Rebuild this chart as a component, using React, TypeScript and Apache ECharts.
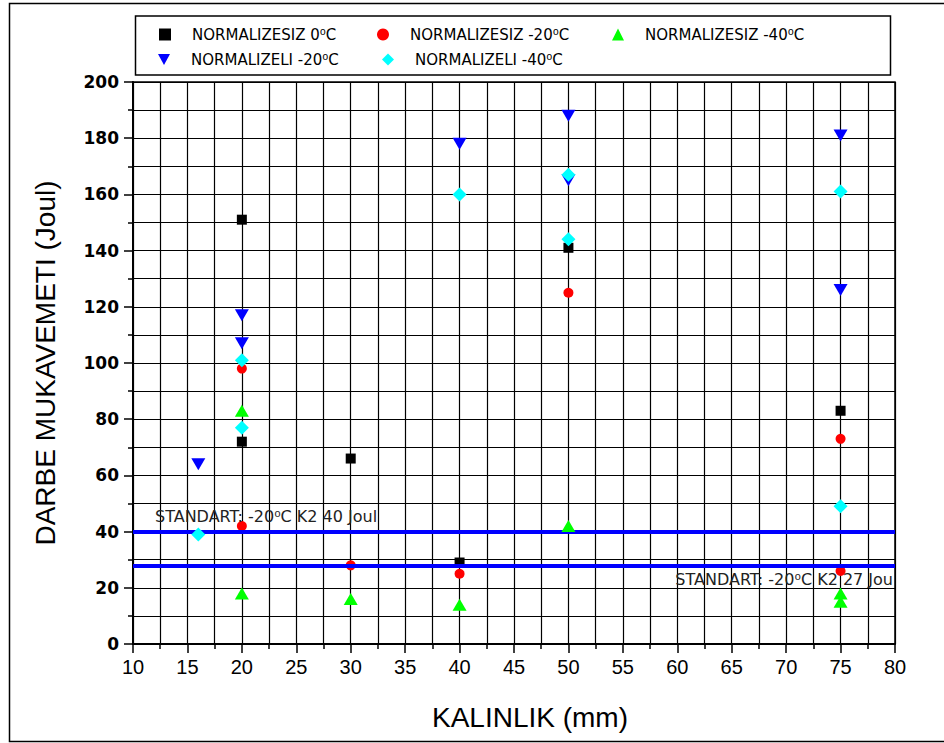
import React, { useEffect, useRef } from "react";
import * as echarts from "echarts";

const seriesNames = [
  "NORMALIZESIZ 0⁰C",
  "NORMALIZESIZ -20⁰C",
  "NORMALIZESIZ -40⁰C",
  "NORMALIZELI -20⁰C",
  "NORMALIZELI -40⁰C",
];
// [thickness mm, impact energy J]
const normalizesiz0: number[][] = [[20, 151], [20, 72], [30, 66], [40, 29], [50, 141], [75, 83]];
const normalizesizM20: number[][] = [[20, 98], [20, 42], [30, 28], [40, 25], [50, 125], [75, 73], [75, 26]];
const normalizesizM40: number[][] = [[20, 83], [20, 18], [30, 16], [40, 14], [50, 42], [75, 18], [75, 15]];
const normalizeliM20: number[][] = [[16, 64], [20, 117], [20, 107], [40, 178], [50, 188], [50, 165], [75, 181], [75, 126]];
const normalizeliM40: number[][] = [[16, 39], [20, 101], [20, 77], [40, 160], [50, 167], [50, 144], [75, 161], [75, 49]];

const standardLevels = [40, 28];
const standardLabels = ["STANDART: -20⁰C K2 40 Joul", "STANDART: -20⁰C K2 27 Jou"];

const xMin = 10, xMax = 80, xInterval = 5;
const yMin = 0, yMax = 200, yInterval = 20;

const colors = ["#000000", "#ff0000", "#00ff00", "#0000ff", "#00ffff"];
const symbols = ["rect", "circle", "triangle", "path://M0,0 L10,0 L5,9 Z", "diamond"];
const symbolSizes: any[] = [10, 10, [14, 12], [14, 12], [14, 14]];
const legendPos = [
  { left: 159, top: 27 },
  { left: 377, top: 27 },
  { left: 612, top: 27 },
  { left: 158, top: 52 },
  { left: 382, top: 52 },
];

export default function App() {
  const ref = useRef<HTMLDivElement>(null);
  useEffect(() => {
    if (!ref.current) return;
    const chart = echarts.init(ref.current, null, { renderer: "svg" });
    const datasets = [normalizesiz0, normalizesizM20, normalizesizM40, normalizeliM20, normalizeliM40];
    const series: any[] = datasets.map((d, i) => ({
      name: seriesNames[i],
      type: "scatter",
      data: d,
      symbol: symbols[i],
      symbolSize: symbolSizes[i],
      itemStyle: { color: colors[i], opacity: 1 },
      z: 3 + i,
    }));
    series.push({
      name: "STANDART",
      type: "scatter",
      data: [],
      z: 20,
      markLine: {
        silent: true,
        symbol: ["none", "none"],
        animation: false,
        lineStyle: { color: "#0000ff", width: 4, type: "solid" },
        data: standardLevels.map((v, i) => ({
          yAxis: v,
          label: {
            show: true,
            formatter: standardLabels[i],
            position: i === 0 ? "insideStartTop" : "insideEndBottom",
            distance: i === 0 ? [22, 7] : [2, 6],
            color: "#222",
            fontSize: 16,
            fontFamily: "DejaVu Sans",
          },
        })),
      },
    });
    const legends = seriesNames.map((n, i) => ({
      data: [n],
      left: legendPos[i].left,
      top: legendPos[i].top,
      itemWidth: 12,
      itemHeight: 12,
      padding: 0,
      selectedMode: false,
      textStyle: { fontSize: 15, color: "#000", fontFamily: "DejaVu Sans", padding: [0, 0, 0, 16] },
    }));
    const option: any = {
      animation: false,
      backgroundColor: "#fff",
      textStyle: { fontFamily: "Liberation Sans" },
      legend: legends,
      grid: {
        left: 133,
        right: 49,
        top: 82,
        bottom: 99,
        show: true,
        borderColor: "#000",
        borderWidth: 1.5,
        backgroundColor: "transparent",
      },
      xAxis: {
        type: "value",
        min: xMin,
        max: xMax,
        interval: xInterval,
        name: "KALINLIK (mm)",
        nameLocation: "middle",
        nameGap: 59,
        nameTextStyle: { fontSize: 28, color: "#000", padding: [0, 0, 0, 32] },
        axisLine: { show: true, onZero: false, lineStyle: { color: "#000", width: 2 } },
        axisTick: { show: true, length: 9, lineStyle: { color: "#000", width: 1.5 } },
        minorTick: { show: true, splitNumber: 2, length: 5, lineStyle: { color: "#000", width: 1.5 } },
        axisLabel: { fontSize: 20, color: "#000", margin: 13 },
        splitLine: { show: true, lineStyle: { color: "#000", width: 1.2 } },
        minorSplitLine: { show: true, lineStyle: { color: "#000", width: 1.2 } },
      },
      yAxis: {
        type: "value",
        min: yMin,
        max: yMax,
        interval: yInterval,
        name: "DARBE MUKAVEMETI (Joul)",
        nameLocation: "middle",
        nameGap: 74,
        nameTextStyle: { fontSize: 28, color: "#000" },
        axisLine: { show: true, onZero: false, lineStyle: { color: "#000", width: 2 } },
        axisTick: { show: true, length: 9, lineStyle: { color: "#000", width: 1.5 } },
        minorTick: { show: true, splitNumber: 2, length: 5, lineStyle: { color: "#000", width: 1.5 } },
        axisLabel: { fontSize: 17, color: "#000", fontWeight: "bold", fontFamily: "DejaVu Sans", margin: 14 },
        splitLine: { show: true, lineStyle: { color: "#000", width: 1.2 } },
        minorSplitLine: { show: true, lineStyle: { color: "#000", width: 1.2 } },
      },
      graphic: [
        {
          type: "rect",
          shape: { x: 9.5, y: 3.5, width: 960, height: 738 },
          style: { fill: "none", stroke: "#000", lineWidth: 1.5 },
          silent: true,
          z: -1,
        },
        {
          type: "rect",
          shape: { x: 135.5, y: 16, width: 755, height: 59 },
          style: { fill: "none", stroke: "#000", lineWidth: 1.5 },
          silent: true,
        },
      ],
      series,
    };
    chart.setOption(option);
    return () => chart.dispose();
  }, []);
  return (
    <div
      ref={ref}
      style={{ position: "fixed", left: 0, top: 0, width: 944, height: 743, background: "#fff" }}
    />
  );
}
